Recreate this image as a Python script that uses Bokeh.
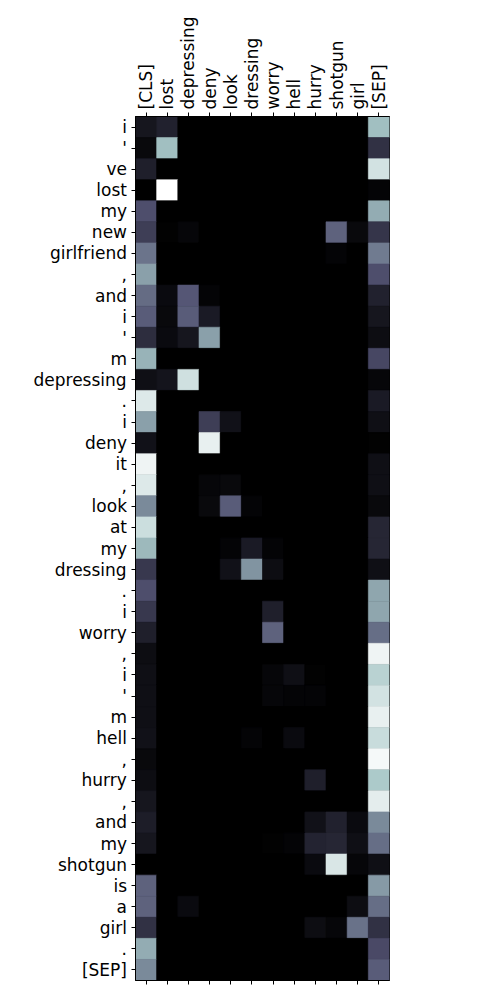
import numpy as np
from bokeh.plotting import figure
from bokeh.layouts import row
from bokeh.models import LinearAxis, FixedTicker, Range1d, ColumnDataSource, LinearColorMapper
from bokeh.core.properties import value
from bokeh.embed import file_html
from bokeh.resources import INLINE

col_tokens = ["[CLS]", "lost", "depressing", "deny", "look", "dressing", "worry",
              "hell", "hurry", "shotgun", "girl", "[SEP]"]
row_tokens = ["i", "'", "ve", "lost", "my", "new", "girlfriend", ",", "and", "i", "'", "m",
              "depressing", ".", "i", "deny", "it", ",", "look", "at", "my", "dressing", ".",
              "i", "worry", ",", "i", "'", "m", "hell", ",", "hurry", ",", "and", "my",
              "shotgun", "is", "a", "girl", ".", "[SEP]"]

# attention weights, one list per row token, columns in col_tokens order
attention = [
    [0.10, 0.15, 0, 0, 0, 0, 0, 0, 0, 0, 0, 0.72],
    [0.04, 0.72, 0, 0, 0, 0, 0, 0, 0, 0, 0, 0.22],
    [0.14, 0, 0, 0, 0, 0, 0, 0, 0, 0, 0, 0.87],
    [0.00, 1.00, 0, 0, 0, 0, 0, 0, 0, 0, 0, 0.02],
    [0.35, 0, 0, 0, 0, 0, 0, 0, 0, 0, 0, 0.66],
    [0.28, 0.01, 0.03, 0, 0, 0, 0, 0, 0, 0.42, 0.04, 0.24],
    [0.48, 0, 0, 0, 0, 0, 0, 0, 0, 0.02, 0, 0.50],
    [0.62, 0, 0, 0, 0, 0, 0, 0, 0, 0, 0, 0.35],
    [0.45, 0.05, 0.38, 0.02, 0, 0, 0, 0, 0, 0, 0, 0.15],
    [0.40, 0.04, 0.40, 0.12, 0, 0, 0, 0, 0, 0, 0, 0.10],
    [0.20, 0.05, 0.10, 0.62, 0, 0, 0, 0, 0, 0, 0, 0.06],
    [0.68, 0, 0, 0, 0, 0, 0, 0, 0, 0, 0, 0.32],
    [0.07, 0.09, 0.86, 0, 0, 0, 0, 0, 0, 0, 0, 0.03],
    [0.90, 0, 0, 0, 0, 0, 0, 0, 0, 0, 0, 0.12],
    [0.62, 0, 0, 0.28, 0.08, 0, 0, 0, 0, 0, 0, 0.07],
    [0.08, 0, 0, 0.93, 0, 0, 0, 0, 0, 0, 0, 0.01],
    [0.95, 0, 0, 0, 0, 0, 0, 0, 0, 0, 0, 0.07],
    [0.90, 0, 0, 0.03, 0.04, 0, 0, 0, 0, 0, 0, 0.07],
    [0.55, 0, 0, 0.04, 0.40, 0.02, 0, 0, 0, 0, 0, 0.04],
    [0.85, 0, 0, 0, 0, 0, 0, 0, 0, 0, 0, 0.17],
    [0.70, 0, 0, 0, 0.02, 0.12, 0.02, 0, 0, 0, 0, 0.17],
    [0.25, 0, 0, 0, 0.08, 0.58, 0.06, 0, 0, 0, 0, 0.07],
    [0.35, 0, 0, 0, 0, 0, 0, 0, 0, 0, 0, 0.64],
    [0.25, 0, 0, 0, 0, 0, 0.14, 0, 0, 0, 0, 0.64],
    [0.14, 0, 0, 0, 0, 0, 0.42, 0, 0, 0, 0, 0.46],
    [0.06, 0, 0, 0, 0, 0, 0, 0, 0, 0, 0, 0.95],
    [0.07, 0, 0, 0, 0, 0, 0.03, 0.07, 0.01, 0, 0, 0.80],
    [0.07, 0, 0, 0, 0, 0, 0.03, 0.02, 0.02, 0, 0, 0.87],
    [0.07, 0, 0, 0, 0, 0, 0, 0, 0, 0, 0, 0.93],
    [0.08, 0, 0, 0, 0, 0.02, 0, 0.05, 0, 0, 0, 0.84],
    [0.04, 0, 0, 0, 0, 0, 0, 0, 0, 0, 0, 0.97],
    [0.06, 0, 0, 0, 0, 0, 0, 0, 0.14, 0, 0, 0.76],
    [0.10, 0, 0, 0, 0, 0, 0, 0, 0, 0, 0, 0.92],
    [0.13, 0, 0, 0, 0, 0, 0, 0, 0.08, 0.15, 0.05, 0.55],
    [0.10, 0, 0, 0, 0, 0, 0.01, 0.02, 0.16, 0.17, 0.07, 0.46],
    [0.00, 0, 0, 0, 0, 0, 0, 0, 0.05, 0.89, 0.03, 0.07],
    [0.42, 0, 0, 0, 0, 0, 0, 0, 0, 0, 0, 0.60],
    [0.42, 0, 0.05, 0, 0, 0, 0, 0, 0, 0, 0.06, 0.46],
    [0.22, 0, 0, 0, 0, 0, 0, 0, 0.06, 0.03, 0.47, 0.22],
    [0.66, 0, 0, 0, 0, 0, 0, 0, 0, 0, 0, 0.33],
    [0.55, 0, 0, 0, 0, 0, 0, 0, 0, 0, 0, 0.40],
]


def bone_palette(n=256):
    v = np.linspace(0, 1, n)
    r = np.interp(v, [0, 0.746032, 1], [0, 0.652778, 1])
    g = np.interp(v, [0, 0.365079, 0.746032, 1], [0, 0.319444, 0.777778, 1])
    b = np.interp(v, [0, 0.365079, 1], [0, 0.444444, 1])
    return ["#%02x%02x%02x" % (int(round(a * 255)), int(round(c * 255)), int(round(d * 255)))
            for a, c, d in zip(r, g, b)]


# DejaVu Sans advance widths (em) used to right-align labels with left anchoring
ADV = {'a': .613, 'b': .635, 'c': .550, 'd': .635, 'e': .615, 'f': .352, 'g': .635,
       'h': .634, 'i': .278, 'j': .278, 'k': .579, 'l': .278, 'm': .974, 'n': .634,
       'o': .612, 'p': .635, 'q': .635, 'r': .411, 's': .521, 't': .392, 'u': .634,
       'v': .592, 'w': .818, 'x': .592, 'y': .592, 'z': .525, 'C': .698, 'E': .632,
       'L': .557, 'P': .603, 'S': .635, "'": .275, ',': .318, '.': .318, '[': .390,
       ']': .390}


def text_width(s, px):
    return sum(ADV.get(ch, 0.6) for ch in s) * px


xs, ys, vals = [], [], []
for i, r in enumerate(attention):
    for j, v in enumerate(r):
        xs.append(j)
        ys.append(i)
        vals.append(v)

src = ColumnDataSource(dict(x=xs, y=ys, v=vals))
mapper = LinearColorMapper(palette=bone_palette(), low=0, high=1)

n_rows = len(row_tokens)
n_cols = len(col_tokens)
font = "DejaVu Sans"
FS_PX = 17
fs = "%dpx" % FS_PX

y_range = Range1d(n_rows - 0.5, -0.5)

# ---- label panel (row tokens, right aligned) ----
LABEL_W = 127
lab = figure(output_backend="svg", toolbar_location=None,
             x_range=Range1d(0, LABEL_W), y_range=y_range,
             frame_width=LABEL_W, frame_height=864,
             min_border_left=0, min_border_right=0, min_border_top=116, min_border_bottom=10,
             x_axis_type=None, y_axis_type=None)
lab.outline_line_color = None
lab.xgrid.visible = False
lab.ygrid.visible = False
lab_src = ColumnDataSource(dict(x=[LABEL_W - 0.5 - text_width(t, FS_PX) for t in row_tokens],
                                y=list(range(n_rows)), text=row_tokens))
lab.text(x="x", y="y", text="text", source=lab_src, text_align="left",
         text_baseline="middle", text_font=value(font), text_font_size=value(fs),
         text_color="black")

# ---- heatmap ----
p = figure(output_backend="svg", toolbar_location=None,
           x_range=Range1d(-0.5, n_cols - 0.5), y_range=y_range,
           frame_width=254, frame_height=864,
           min_border_left=7, min_border_top=116, min_border_bottom=10, min_border_right=10,
           x_axis_location="below")
p.rect(x="x", y="y", width=1, height=1, source=src,
       fill_color={"field": "v", "transform": mapper},
       line_color={"field": "v", "transform": mapper}, line_width=0.6)

p.xgrid.visible = False
p.ygrid.visible = False
p.outline_line_color = "black"
p.outline_line_width = 1
p.background_fill_color = "black"

# bottom axis: ticks only
xb = p.xaxis[0]
xb.ticker = FixedTicker(ticks=list(range(n_cols)))
xb.major_label_overrides = {i: " " for i in range(n_cols)}
xb.major_label_text_font_size = "4px"
xb.major_tick_out = 4
xb.major_tick_in = 0
xb.minor_tick_line_color = None
xb.axis_line_color = "black"

# top axis with labels
xt = LinearAxis(ticker=FixedTicker(ticks=list(range(n_cols))),
                major_label_overrides={i: t for i, t in enumerate(col_tokens)},
                major_label_orientation="vertical",
                major_label_text_font=font, major_label_text_font_size=fs,
                major_label_text_color="black", major_label_standoff=3,
                major_tick_out=4, major_tick_in=0, minor_tick_line_color=None)
p.add_layout(xt, "above")

# left axis: ticks only (labels are in the panel at left)
ya = p.yaxis[0]
ya.ticker = FixedTicker(ticks=list(range(n_rows)))
ya.major_label_overrides = {i: " " for i in range(n_rows)}
ya.major_label_text_font_size = "4px"
ya.major_label_standoff = 0
ya.major_tick_out = 4
ya.major_tick_in = 0
ya.minor_tick_line_color = None

layout = row(lab, p)
open("out.html", "w").write(file_html(layout, INLINE))
